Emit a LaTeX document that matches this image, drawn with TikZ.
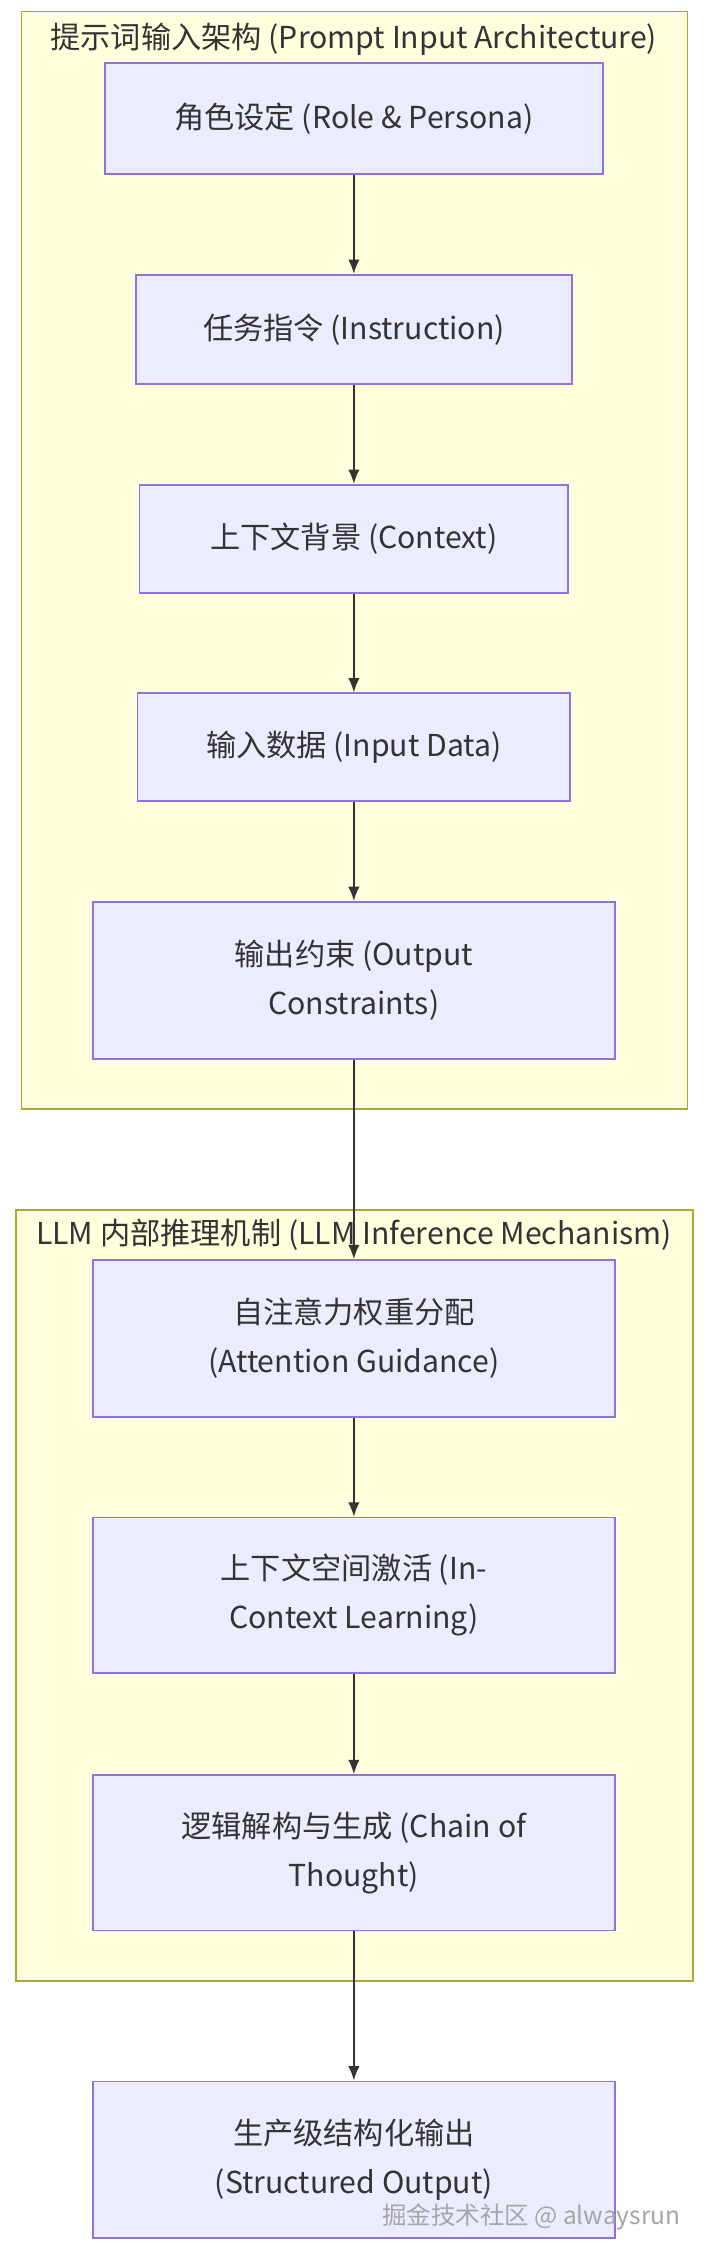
\documentclass[tikz,border=0pt]{standalone}
\usepackage{fontspec}
\setmainfont{Noto Sans CJK SC}
\usetikzlibrary{arrows.meta}
\definecolor{boxfill}{HTML}{ECECFF}
\definecolor{boxline}{HTML}{9370DB}
\definecolor{grpfill}{HTML}{FFFFDE}
\definecolor{grpline}{HTML}{AAAA33}
\definecolor{txt}{HTML}{333333}
\begin{document}
\begin{tikzpicture}[x=0.5pt,y=-0.5pt,
  stage/.style={draw=boxline, fill=boxfill, line width=0.6pt, align=center, text=txt,
    font=\fontsize{10.5}{17}\selectfont, inner sep=0pt},
  grp/.style={draw=grpline, fill=grpfill, line width=0.6pt},
  flow/.style={draw, line width=0.7pt, color=txt, -{Latex[length=5pt,width=4pt]}}]
\useasboundingbox (0,0) rectangle (490,1560);
\fill[white] (0,0) rectangle (490,1560);

\path[grp] (15,8) rectangle (478,771);
\node[text=txt, font=\fontsize{10.5}{12}\selectfont] (g1) at (246,27) {提示词输入架构 (Prompt Input Architecture)};
\path[grp] (11,841) rectangle (482,1377);
\node[text=txt, font=\fontsize{10.5}{12}\selectfont] (g2) at (246,858) {LLM 内部推理机制 (LLM Inference Mechanism)};

\node[stage, minimum width=173pt, minimum height=38.5pt] (1) at (246,82.5) {角色设定 (Role \& Persona)};
\node[stage, minimum width=151.5pt, minimum height=38pt] (2) at (246,229) {任务指令 (Instruction)};
\node[stage, minimum width=149pt, minimum height=37.5pt] (3) at (246,374.5) {上下文背景 (Context)};
\node[stage, minimum width=150.5pt, minimum height=37.5pt] (4) at (246,519.5) {输入数据 (Input Data)};
\node[stage, minimum width=181.5pt, minimum height=54.5pt] (5) at (246,681.5) {输出约束 (Output\\Constraints)};
\node[stage, minimum width=181.5pt, minimum height=54.5pt] (6) at (246,930.5) {自注意力权重分配\\(Attention Guidance)};
\node[stage, minimum width=181.5pt, minimum height=54pt] (7) at (246,1109) {上下文空间激活 (In-\\Context Learning)};
\node[stage, minimum width=181.5pt, minimum height=54pt] (8) at (246,1288) {逻辑解构与生成 (Chain of\\Thought)};
\node[stage, minimum width=181.5pt, minimum height=54.5pt] (9) at (246,1501.5) {生产级结构化输出\\(Structured Output)};

\path[flow] (1) -- (2);
\path[flow] (2) -- (3);
\path[flow] (3) -- (4);
\path[flow] (4) -- (5);
\path[flow] (5) -- (6);
\path[flow] (6) -- (7);
\path[flow] (7) -- (8);
\path[flow] (8) -- (9);

\node[text=gray!70, font=\fontsize{8.5}{10}\selectfont, anchor=east] (wm) at (480,1541) {掘金技术社区 @ alwaysrun};
\end{tikzpicture}
\end{document}
